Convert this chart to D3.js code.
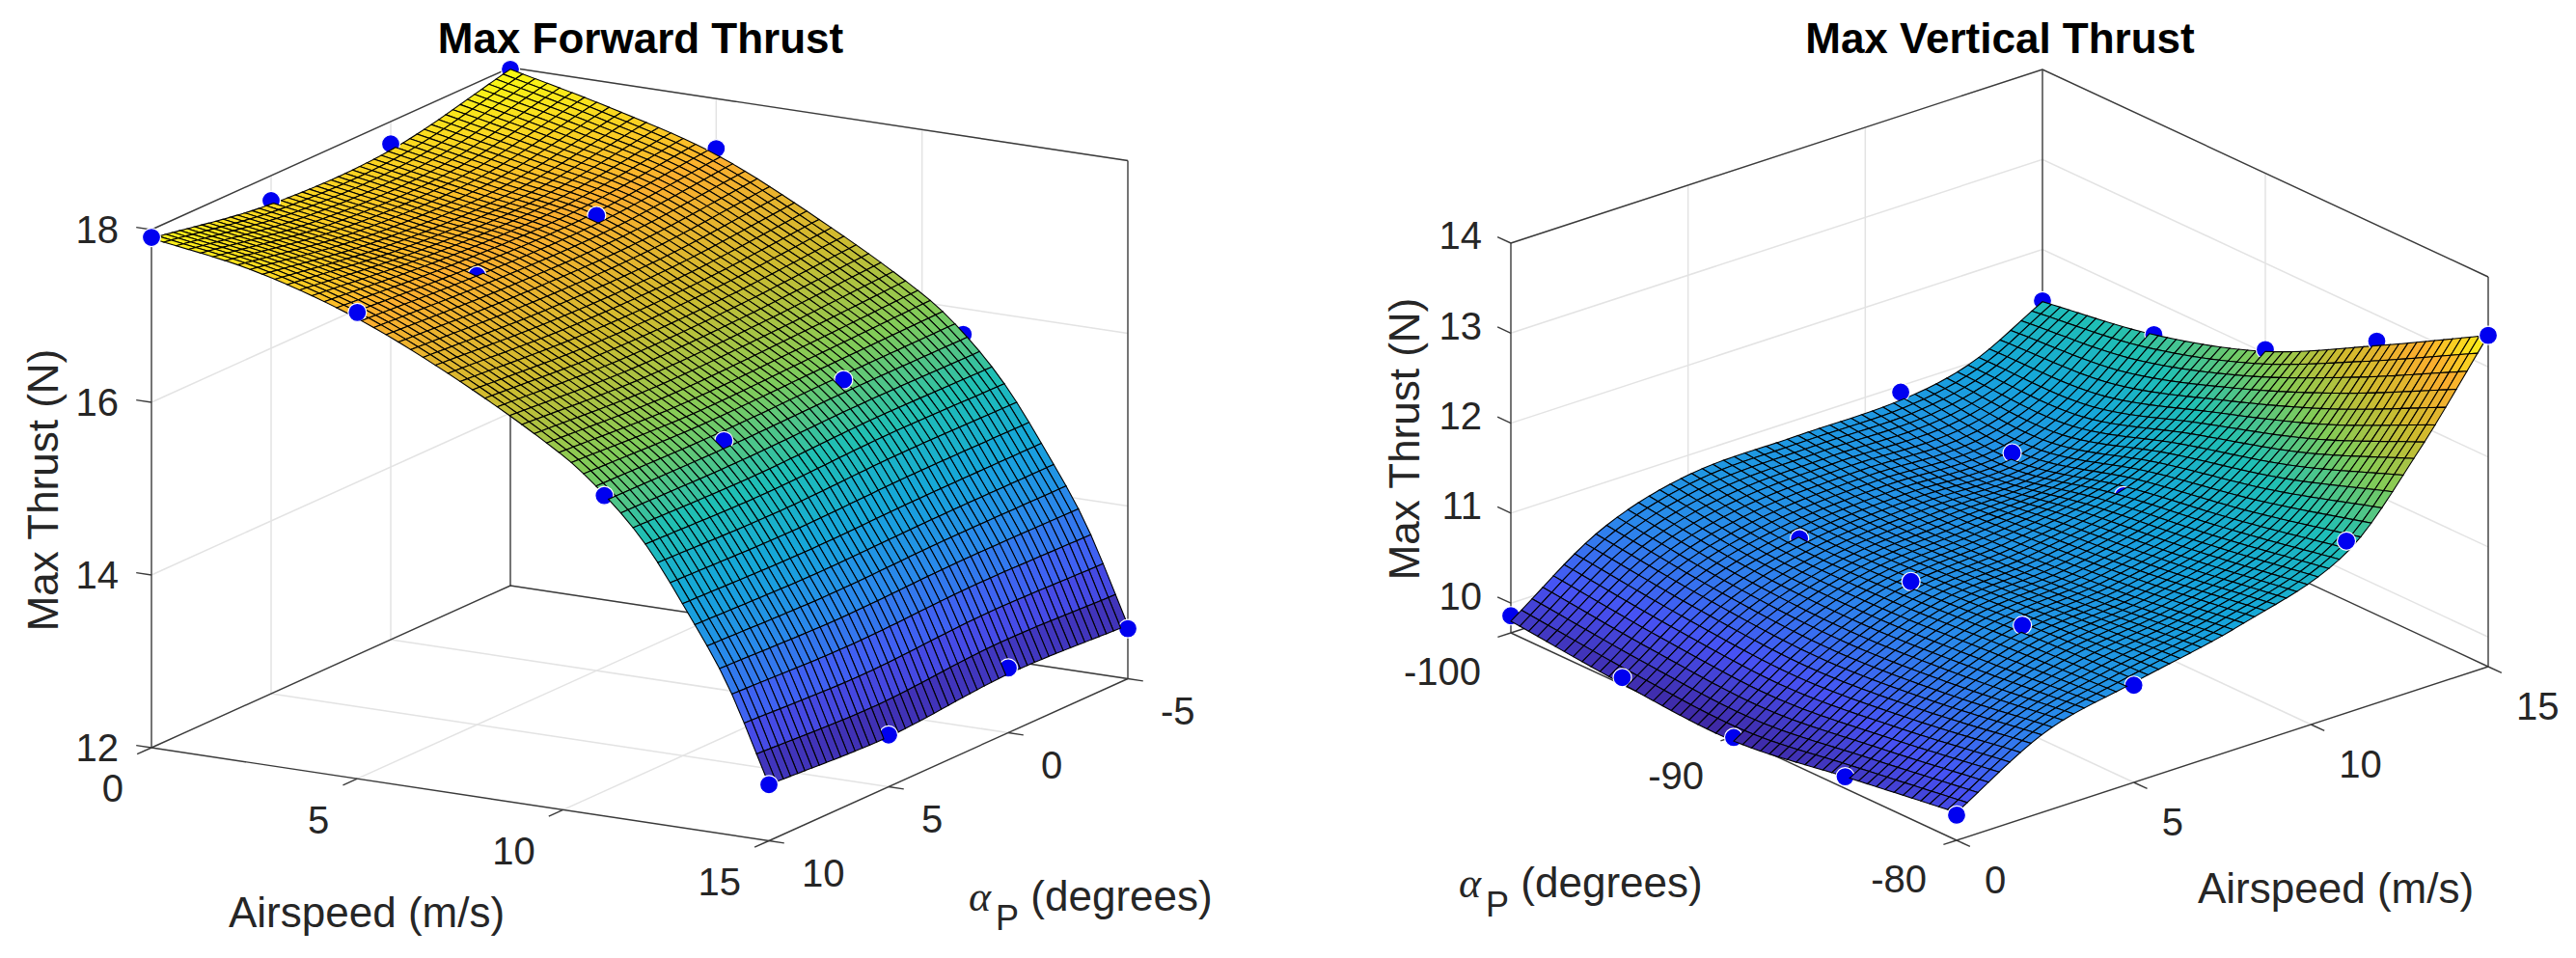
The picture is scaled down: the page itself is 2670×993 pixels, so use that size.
<!DOCTYPE html>
<html>
<head>
<meta charset="utf-8">
<style>
body { margin: 0; background: #fff; }
text { font-family: "Liberation Sans", Arial, sans-serif; fill: #262626; }
</style>
<script src="https://cdn.jsdelivr.net/npm/d3@7"></script>
</head>
<body>
<script>
// tick labels
const airspeedTicks = [0, 5, 10, 15];
const forwardAlphaTicks = [-5, 0, 5, 10];
const forwardThrustTicks = [12, 14, 16, 18];
const verticalAlphaTicks = [-100, -90, -80];
const verticalThrustTicks = [10, 11, 12, 13, 14];

// heights, the mesh is interpolated between these for drawing only
const forwardKnotAirspeeds = [0, 2.5, 5, 7.5, 10, 11, 12, 13, 14, 15];
const forwardKnotAlphas = [-5, 0, 5, 10];
const forwardKnots = [
    [17.98, 17.70, 17.35, 16.78, 16.10, 15.72, 15.20, 14.50, 13.70, 12.62],
    [17.67, 17.45, 17.22, 16.68, 16.05, 15.72, 15.22, 14.50, 13.72, 12.68],
    [17.67, 17.47, 17.24, 16.68, 16.02, 15.70, 15.18, 14.48, 13.68, 12.58],
    [17.90, 17.70, 17.33, 16.78, 16.10, 15.72, 15.22, 14.52, 13.73, 12.65]
];
const verticalKnotAirspeeds = [0, 2.5, 5, 8, 11, 13, 15];
const verticalKnotAlphas = [-100, -95, -90, -85, -80];
const verticalKnots = [
    [9.80, 10.48, 10.78, 10.82, 10.84, 11.00, 11.42],
    [9.68, 10.33, 10.62, 10.72, 10.72, 11.02, 11.63],
    [9.62, 10.26, 10.64, 10.76, 11.00, 11.40, 12.02],
    [9.80, 10.36, 10.72, 10.86, 11.20, 11.78, 12.66],
    [9.98, 10.55, 10.78, 11.03, 11.45, 12.30, 13.35]
];

// measured points, one row per alpha
const pointAirspeeds = [0, 5, 11, 15];
const forwardPoints = [
    [17.98, 17.42, 15.70, 12.58],
    [17.74, 17.27, 15.80, 12.75],
    [17.71, 17.20, 15.72, 12.60],
    [17.91, 17.40, 15.71, 12.65]
];
const verticalPoints = [
    [9.86, 10.60, 10.93, 11.43],
    [9.75, 10.65, 10.83, 11.63],
    [9.66, 10.75, 10.93, 12.04],
    [9.80, 10.84, 11.10, 12.71],
    [9.95, 10.75, 11.58, 13.35]
];

const meshCells = 50;
const parula = ["#3e269f", "#4752f4", "#2b86ec", "#15a5db", "#1fbfb5", "#81cc59", "#d0bb2e", "#fbae2e", "#f9fb14"];

const svg = d3.select("body").append("svg")
    .attr("width", 2670)
    .attr("height", 993);

// cubic through the knots, used to sample the mesh
function cubicAt(xs, ys, x) {
    let i = Math.min(d3.bisectRight(xs, x) - 1, xs.length - 2);
    i = Math.max(i, 0);
    const h = xs[i + 1] - xs[i];
    const slope = j => {
        if (j === 0) return (ys[1] - ys[0]) / (xs[1] - xs[0]);
        if (j === xs.length - 1) return (ys[j] - ys[j - 1]) / (xs[j] - xs[j - 1]);
        return (ys[j + 1] - ys[j - 1]) / (xs[j + 1] - xs[j - 1]);
    };
    const t = (x - xs[i]) / h;
    const t2 = t * t, t3 = t2 * t;
    return (2 * t3 - 3 * t2 + 1) * ys[i] + (t3 - 2 * t2 + t) * h * slope(i)
        + (-2 * t3 + 3 * t2) * ys[i + 1] + (t3 - t2) * h * slope(i + 1);
}

function drawPanel(p) {
    const g = svg.append("g");

    const vScale = d3.scaleLinear().domain([0, 15]).range([0, 1]);
    const aScale = d3.scaleLinear().domain(p.aDomain).range([0, 1]);
    const zScale = d3.scaleLinear().domain(p.zDomain).range([0, p.boxHeight]);
    const project = (v, a, z) => {
        const f = vScale(v), s = aScale(a);
        return [p.origin[0] + f * p.vVec[0] + s * p.aVec[0],
                p.origin[1] + f * p.vVec[1] + s * p.aVec[1] - zScale(z)];
    };
    const seg = (stroke, width, pts) => g.append("path")
        .attr("d", d3.line()(pts))
        .attr("fill", "none")
        .attr("stroke", stroke)
        .attr("stroke-width", width);

    const [zMin, zMax] = p.zDomain;
    const [aFront, aBack] = [p.aFront, p.aBack];
    const [vFront, vBack] = [p.vFront, p.vBack];
    const gridColor = "#e3e3e3";

    // grid on the walls and the floor
    airspeedTicks.filter(v => v > 0 && v < 15).forEach(v => {
        seg(gridColor, 1.5, [project(v, aBack, zMin), project(v, aBack, zMax)]);
        seg(gridColor, 1.5, [project(v, aBack, zMin), project(v, aFront, zMin)]);
    });
    p.aTicks.filter(a => a !== aFront && a !== aBack).forEach(a => {
        seg(gridColor, 1.5, [project(vBack, a, zMin), project(vBack, a, zMax)]);
        seg(gridColor, 1.5, [project(vBack, a, zMin), project(vFront, a, zMin)]);
    });
    p.zTicks.forEach(z => {
        seg(gridColor, 1.5, [project(vFront, aBack, z), project(vBack, aBack, z), project(vBack, aFront, z)]);
    });

    // box
    const axisColor = "#3a3a3a";
    seg(axisColor, 1.4, [project(0, aFront, zMin), project(15, aFront, zMin)]);
    seg(axisColor, 1.4, [project(vFront, p.aDomain[0], zMin), project(vFront, p.aDomain[1], zMin)]);
    seg(axisColor, 1.4, [project(vFront, aBack, zMin), project(vBack, aBack, zMin), project(vBack, aFront, zMin)]);
    seg(axisColor, 1.4, [project(p.zAxisV, p.zAxisA, zMin), project(p.zAxisV, p.zAxisA, zMax)]);
    seg(axisColor, 1.4, [project(vBack, aBack, zMin), project(vBack, aBack, zMax)]);
    seg(axisColor, 1.4, [project(p.thirdV, p.thirdA, zMin), project(p.thirdV, p.thirdA, zMax)]);
    seg(axisColor, 1.4, [project(vFront, aBack, zMax), project(vBack, aBack, zMax), project(vBack, aFront, zMax)]);

    // ticks
    airspeedTicks.forEach(v => {
        seg(axisColor, 1.4, [project(v, aFront, zMin), project(v, aFront + p.aOut, zMin)]);
    });
    p.aTicks.forEach(a => {
        seg(axisColor, 1.4, [project(vFront, a, zMin), project(vFront + p.vOut, a, zMin)]);
    });
    p.zTicks.forEach(z => {
        const tickEnd = p.zTickAlongV
            ? project(p.zAxisV + p.zTickOut, p.zAxisA, z)
            : project(p.zAxisV, p.zAxisA + p.zTickOut, z);
        seg(axisColor, 1.4, [project(p.zAxisV, p.zAxisA, z), tickEnd]);
    });

    // tick labels
    const label = (str, x, y, anchor, size) => g.append("text")
        .attr("x", x).attr("y", y)
        .attr("text-anchor", anchor)
        .attr("font-size", size)
        .text(str);

    airspeedTicks.forEach(v => {
        const [x, y] = project(v, aFront, zMin);
        label(v, x + p.vLabel[0], y + p.vLabel[1], p.vLabel[2], 40).attr("dy", ".36em");
    });
    p.aTicks.forEach(a => {
        const [x, y] = project(vFront, a, zMin);
        label(a, x + p.aLabel[0], y + p.aLabel[1], p.aLabel[2], 40).attr("dy", ".36em");
    });
    p.zTicks.forEach(z => {
        const [x, y] = project(p.zAxisV, p.zAxisA, z);
        label(z, x + p.zLabel[0], y + p.zLabel[1], "end", 40).attr("dy", ".36em");
    });

    // titles
    label(p.title, p.titlePos[0], p.titlePos[1], "middle", 44)
        .attr("font-weight", "bold").style("fill", "#000");
    label("Airspeed (m/s)", p.vTitlePos[0], p.vTitlePos[1], "start", 44);
    label("Max Thrust (N)", 0, 0, "middle", 44)
        .attr("transform", `translate(${p.zTitlePos[0]},${p.zTitlePos[1]}) rotate(-90)`);
    const aTitle = label("", p.aTitlePos[0], p.aTitlePos[1], "start", 44);
    aTitle.append("tspan").text("α")
        .style("font-family", "'Liberation Serif', serif").style("font-style", "italic");
    aTitle.append("tspan").text("P").attr("dy", 20).attr("dx", 5).attr("font-size", 36);
    aTitle.append("tspan").text(" (degrees)").attr("dy", -20).attr("dx", 0);

    // surface heights on the mesh
    const vMesh = d3.range(meshCells + 1).map(i => 15 * i / meshCells);
    const aMesh = d3.range(meshCells + 1).map(i => p.aKnots[0] + (p.aKnots[p.aKnots.length - 1] - p.aKnots[0]) * i / meshCells);
    const rows = p.knots.map(row => vMesh.map(v => cubicAt(p.vKnots, row, v)));
    const height = aMesh.map(a => vMesh.map((v, j) => cubicAt(p.aKnots, rows.map(r => r[j]), a)));

    const zAll = height.flat();
    const zLo = d3.min(zAll), zHi = d3.max(zAll);
    const colour = d3.scaleLinear()
        .domain(parula.map((c, i) => zLo + (zHi - zLo) * i / (parula.length - 1)))
        .range(parula)
        .interpolate(d3.interpolateRgb);

    // painter's order over the floor, back to front, points included so the surface can hide them
    const items = [];
    for (let i = 0; i < meshCells; i++) {
        for (let j = 0; j < meshCells; j++) {
            const corners = [[i, j], [i, j + 1], [i + 1, j + 1], [i + 1, j]];
            items.push({
                key: p.depth((vMesh[j] + vMesh[j + 1]) / 2, (aMesh[i] + aMesh[i + 1]) / 2),
                pts: corners.map(c => project(vMesh[c[1]], aMesh[c[0]], height[c[0]][c[1]])),
                z: d3.mean(corners, c => height[c[0]][c[1]])
            });
        }
    }
    p.points.forEach((row, i) => row.forEach((z, j) => {
        const v = pointAirspeeds[j], a = p.aKnots[i];
        items.push({ key: p.depth(v, a), point: project(v, a, z) });
    }));
    items.sort((a, b) => a.key - b.key);

    const line = d3.line().curve(d3.curveLinearClosed);
    items.forEach(d => {
        if (d.point) {
            g.append("circle")
                .attr("cx", d.point[0]).attr("cy", d.point[1]).attr("r", 9.5)
                .attr("fill", "#0000f0")
                .attr("stroke", "#fff").attr("stroke-width", 1.2);
        } else {
            g.append("path")
                .attr("d", line(d.pts))
                .attr("fill", colour(d.z))
                .attr("stroke", "#000")
                .attr("stroke-width", 1.1);
        }
    });
}

drawPanel({
    title: "Max Forward Thrust",
    titlePos: [664, 55],
    origin: [157, 775],
    vVec: [640, 96.5],
    aVec: [372, -168],
    boxHeight: 537,
    aDomain: [10, -5],
    zDomain: [12, 18],
    aFront: 10, aBack: -5,
    vFront: 15, vBack: 0,
    aTicks: forwardAlphaTicks,
    zTicks: forwardThrustTicks,
    zAxisV: 0, zAxisA: 10,
    thirdV: 15, thirdA: -5,
    aOut: 0.6, vOut: 0.37,
    zTickAlongV: true, zTickOut: -0.37,
    vLabel: [-29, 42, "end"],
    aLabel: [34, 33, "start"],
    zLabel: [-34, 0],
    vTitlePos: [237, 961],
    zTitlePos: [60, 508],
    aTitlePos: [1004, 944],
    vKnots: forwardKnotAirspeeds,
    aKnots: forwardKnotAlphas,
    knots: forwardKnots,
    points: forwardPoints,
    depth: (v, a) => v / 15 + (a + 5) / 15
});

drawPanel({
    title: "Max Vertical Thrust",
    titlePos: [2073, 55],
    origin: [1566, 656],
    vVec: [551, -180],
    aVec: [462, 215],
    boxHeight: 404,
    aDomain: [-100, -80],
    zDomain: [9.67, 14],
    aFront: -80, aBack: -100,
    vFront: 0, vBack: 15,
    aTicks: verticalAlphaTicks,
    zTicks: verticalThrustTicks,
    zAxisV: 0, zAxisA: -100,
    thirdV: 15, thirdA: -80,
    aOut: 0.6, vOut: -0.37,
    zTickAlongV: false, zTickOut: -0.6,
    vLabel: [29, 41, "start"],
    aLabel: [-31, 40, "end"],
    zLabel: [-30, -8],
    vTitlePos: [2278, 936],
    zTitlePos: [1471, 455],
    aTitlePos: [1512, 930],
    vKnots: verticalKnotAirspeeds,
    aKnots: verticalKnotAlphas,
    knots: verticalKnots,
    points: verticalPoints,
    depth: (v, a) => (a + 100) / 20 - v / 15
});
</script>
</body>
</html>
